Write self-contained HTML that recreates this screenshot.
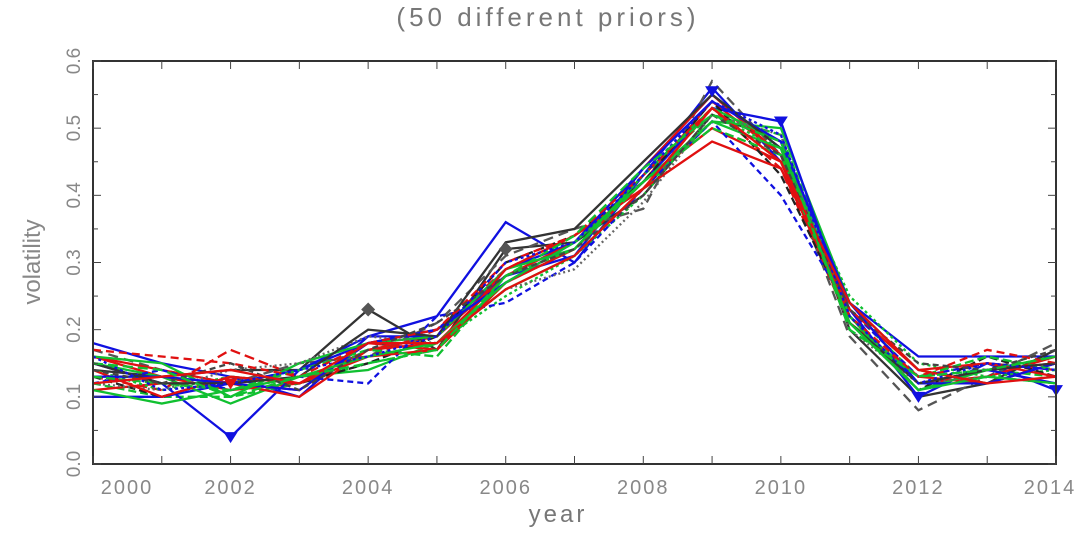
<!DOCTYPE html>
<html><head><meta charset="utf-8"><style>
body{margin:0;background:#fff;width:1092px;height:531px;overflow:hidden;font-family:"Liberation Sans",sans-serif}
</style></head><body>
<svg id="chart" width="1092" height="531" xmlns="http://www.w3.org/2000/svg">
<text x="548" y="26" text-anchor="middle" font-size="26" fill="#777" letter-spacing="4" font-family="Liberation Sans, sans-serif">(50 different priors)</text>
<text x="558" y="522" text-anchor="middle" font-size="24" fill="#777" letter-spacing="3">year</text>
<text transform="translate(40,262) rotate(-90)" text-anchor="middle" font-size="24" fill="#888">volatility</text>
<g id="series"></g>
<g id="axes"></g>
</svg>
<script>
const years=[2000,2001,2002,2003,2004,2005,2006,2007,2008,2009,2010,2011,2012,2013,2014];
const yTicks=[0,0.1,0.2,0.3,0.4,0.5,0.6];
const yTickLabels=["0.0","0.1","0.2","0.3","0.4","0.5","0.6"];
const xTickLabels=["2000","2002","2004","2006","2008","2010","2012","2014"];
const s1=[.18,.15,.13,.10,.19,.22,.36,.30,.43,.56,.45,.24,.16,.16,.16];
const s2=[.16,.13,.11,.12,.17,.19,.28,.33,.42,.54,.46,.22,.12,.14,.15];
const s3=[.12,.10,.10,.12,.15,.17,.27,.32,.43,.52,.49,.23,.13,.14,.13];
const s4=[.14,.13,.14,.14,.23,.17,.32,.33,.40,.52,.48,.20,.10,.12,.17];
const s5=[.13,.11,.17,.13,.16,.20,.29,.34,.41,.53,.44,.21,.13,.15,.14];
const s6=[.10,.10,.12,.14,.18,.20,.28,.31,.44,.55,.47,.23,.10,.15,.11];
const s7=[.15,.13,.09,.13,.14,.18,.26,.31,.41,.51,.50,.24,.14,.12,.15];
const s8=[.17,.14,.12,.15,.16,.21,.31,.35,.38,.57,.46,.19,.08,.13,.18];
const s9=[.11,.12,.12,.11,.18,.17,.27,.32,.42,.50,.45,.21,.12,.13,.16];
const s10=[.15,.12,.04,.14,.19,.19,.29,.33,.42,.53,.51,.22,.12,.14,.12];
const s11=[.14,.11,.13,.12,.17,.18,.25,.31,.40,.52,.47,.25,.15,.13,.14];
const s12=[.13,.10,.13,.12,.15,.19,.30,.34,.42,.54,.43,.22,.11,.16,.13];
const s13=[.16,.14,.12,.10,.17,.18,.28,.33,.44,.55,.46,.21,.13,.12,.15];
const s14=[.12,.14,.11,.13,.12,.22,.24,.30,.41,.51,.40,.23,.13,.15,.14];
const s15=[.16,.15,.10,.15,.18,.19,.29,.32,.43,.53,.48,.22,.11,.14,.16];
const s16=[.12,.11,.14,.15,.19,.18,.26,.29,.39,.52,.49,.20,.12,.13,.12];
const s17=[.14,.10,.13,.12,.16,.17,.29,.34,.41,.48,.44,.23,.14,.15,.13];
const s18=[.13,.13,.12,.11,.18,.20,.27,.33,.44,.54,.48,.24,.12,.12,.15];
const s19=[.13,.12,.11,.14,.17,.16,.28,.32,.42,.50,.46,.21,.13,.16,.14];
const s20=[.15,.12,.12,.13,.20,.19,.33,.35,.45,.55,.47,.21,.12,.14,.15];
const s21=[.17,.16,.15,.13,.18,.20,.30,.34,.43,.53,.45,.22,.13,.17,.15];
const s22=[.11,.09,.11,.13,.16,.18,.27,.33,.42,.51,.47,.21,.11,.13,.12];
const s23=[.14,.12,.15,.11,.17,.21,.28,.32,.40,.52,.46,.23,.15,.14,.17];
const s24=[.16,.11,.12,.14,.16,.19,.30,.33,.43,.54,.49,.22,.12,.15,.14];
const s25=[.12,.13,.14,.12,.18,.18,.26,.31,.41,.53,.45,.24,.14,.12,.13];
const s26=[.15,.14,.10,.13,.15,.17,.28,.34,.44,.52,.48,.20,.13,.14,.16];
const allSeries=[s1,s2,s3,s4,s5,s6,s7,s8,s9,s10,s11,s12,s13,s14,s15,s16,s17,s18,s19,s20,s21,s22,s23,s24,s25,s26];
const colors=["#1010e0","#e01010","#10c030","#333","#e01010","#1010e0","#10c030","#555","#e01010","#1010e0","#10c030","#222","#e01010","#1010e0","#10c030","#666","#e01010","#1010e0","#10c030","#333","#e01010","#10c030","#444","#1010e0","#e01010","#10c030"];
const dashes=["","","8 4","","10 5","","","10 6","","","3 3","8 4","","6 4","","2 3","","","9 4","","8 5","","6 4","3 3","","10 5"];

const L=93,R=1056,T=61,B=464;
function xs(v){return L+(v-2000)/14*(R-L);}
function ys(v){return B-v/0.6*(B-T);}
const NS="http://www.w3.org/2000/svg";
const g=document.getElementById('series');
allSeries.forEach((s,i)=>{
  const p=document.createElementNS(NS,'polyline');
  
  
  p.setAttribute('points',s.map((v,j)=>xs(years[j])+','+ys(v)).join(' '));
  p.setAttribute('fill','none');p.setAttribute('stroke',colors[i]);p.setAttribute('stroke-width','2.3');
  if(dashes[i])p.setAttribute('stroke-dasharray',dashes[i]);
  g.appendChild(p);
});
const markYears=[2002,2010,2012,2014,2004,2006,2002,2009];
const markVals=[0.04,0.51,0.10,0.11,0.23,0.32,0.12,0.555];
const markCols=["#1010e0","#1010e0","#1010e0","#1010e0","#555","#555","#e01010","#1010e0"];
markYears.forEach((yr,i)=>{
  const x=xs(yr),y=ys(markVals[i]);
  const m=document.createElementNS(NS,'path');
  
  
  if(markCols[i]=="#555")m.setAttribute('d',`M${x},${y-7}L${x+7},${y}L${x},${y+7}L${x-7},${y}Z`);
  else m.setAttribute('d',`M${x-7},${y-5}L${x+7},${y-5}L${x},${y+6}Z`);
  m.setAttribute('fill',markCols[i]);
  g.appendChild(m);
});
const a=document.getElementById('axes');
const box=document.createElementNS(NS,'rect');


box.setAttribute('x',L);box.setAttribute('y',T);box.setAttribute('width',R-L);box.setAttribute('height',B-T);
box.setAttribute('fill','none');box.setAttribute('stroke','#333');box.setAttribute('stroke-width','2');
a.appendChild(box);
for(let k=0;k<=12;k++){
  const v=k*0.05,y=ys(v);
  [[L,L+(k%2?5:8)],[R-(k%2?5:8),R]].forEach(([x1,x2])=>{
    const t=document.createElementNS(NS,'line');
    
    
    t.setAttribute('x1',x1);t.setAttribute('x2',x2);t.setAttribute('y1',y);t.setAttribute('y2',y);t.setAttribute('stroke','#444');
    a.appendChild(t);
  });
}
yTicks.forEach((v,i)=>{
  const t=document.createElementNS(NS,'text');
  
  
  t.setAttribute('transform',`translate(80,${ys(v)}) rotate(-90)`);
  t.setAttribute('text-anchor','middle');t.setAttribute('font-size','19');t.setAttribute('fill','#888');
  t.textContent=yTickLabels[i];a.appendChild(t);
});
years.forEach(yr=>{
  const x=xs(yr);
  [[B-8,B],[T,T+8]].forEach(([y1,y2])=>{
    const t=document.createElementNS(NS,'line');
    
    
    t.setAttribute('x1',x);t.setAttribute('x2',x);t.setAttribute('y1',y1);t.setAttribute('y2',y2);t.setAttribute('stroke','#444');
    a.appendChild(t);
  });
});
xTickLabels.forEach((lab,i)=>{
  let x=xs(+lab);
  if(i==0)x+=34; if(i==xTickLabels.length-1)x-=6;
  const t=document.createElementNS(NS,'text');
  
  
  t.setAttribute('x',x);t.setAttribute('y',B+30);t.setAttribute('text-anchor','middle');
  t.setAttribute('font-size','20');t.setAttribute('fill','#888');t.setAttribute('letter-spacing','2');
  t.textContent=lab;a.appendChild(t);
});
</script>
</body></html>
